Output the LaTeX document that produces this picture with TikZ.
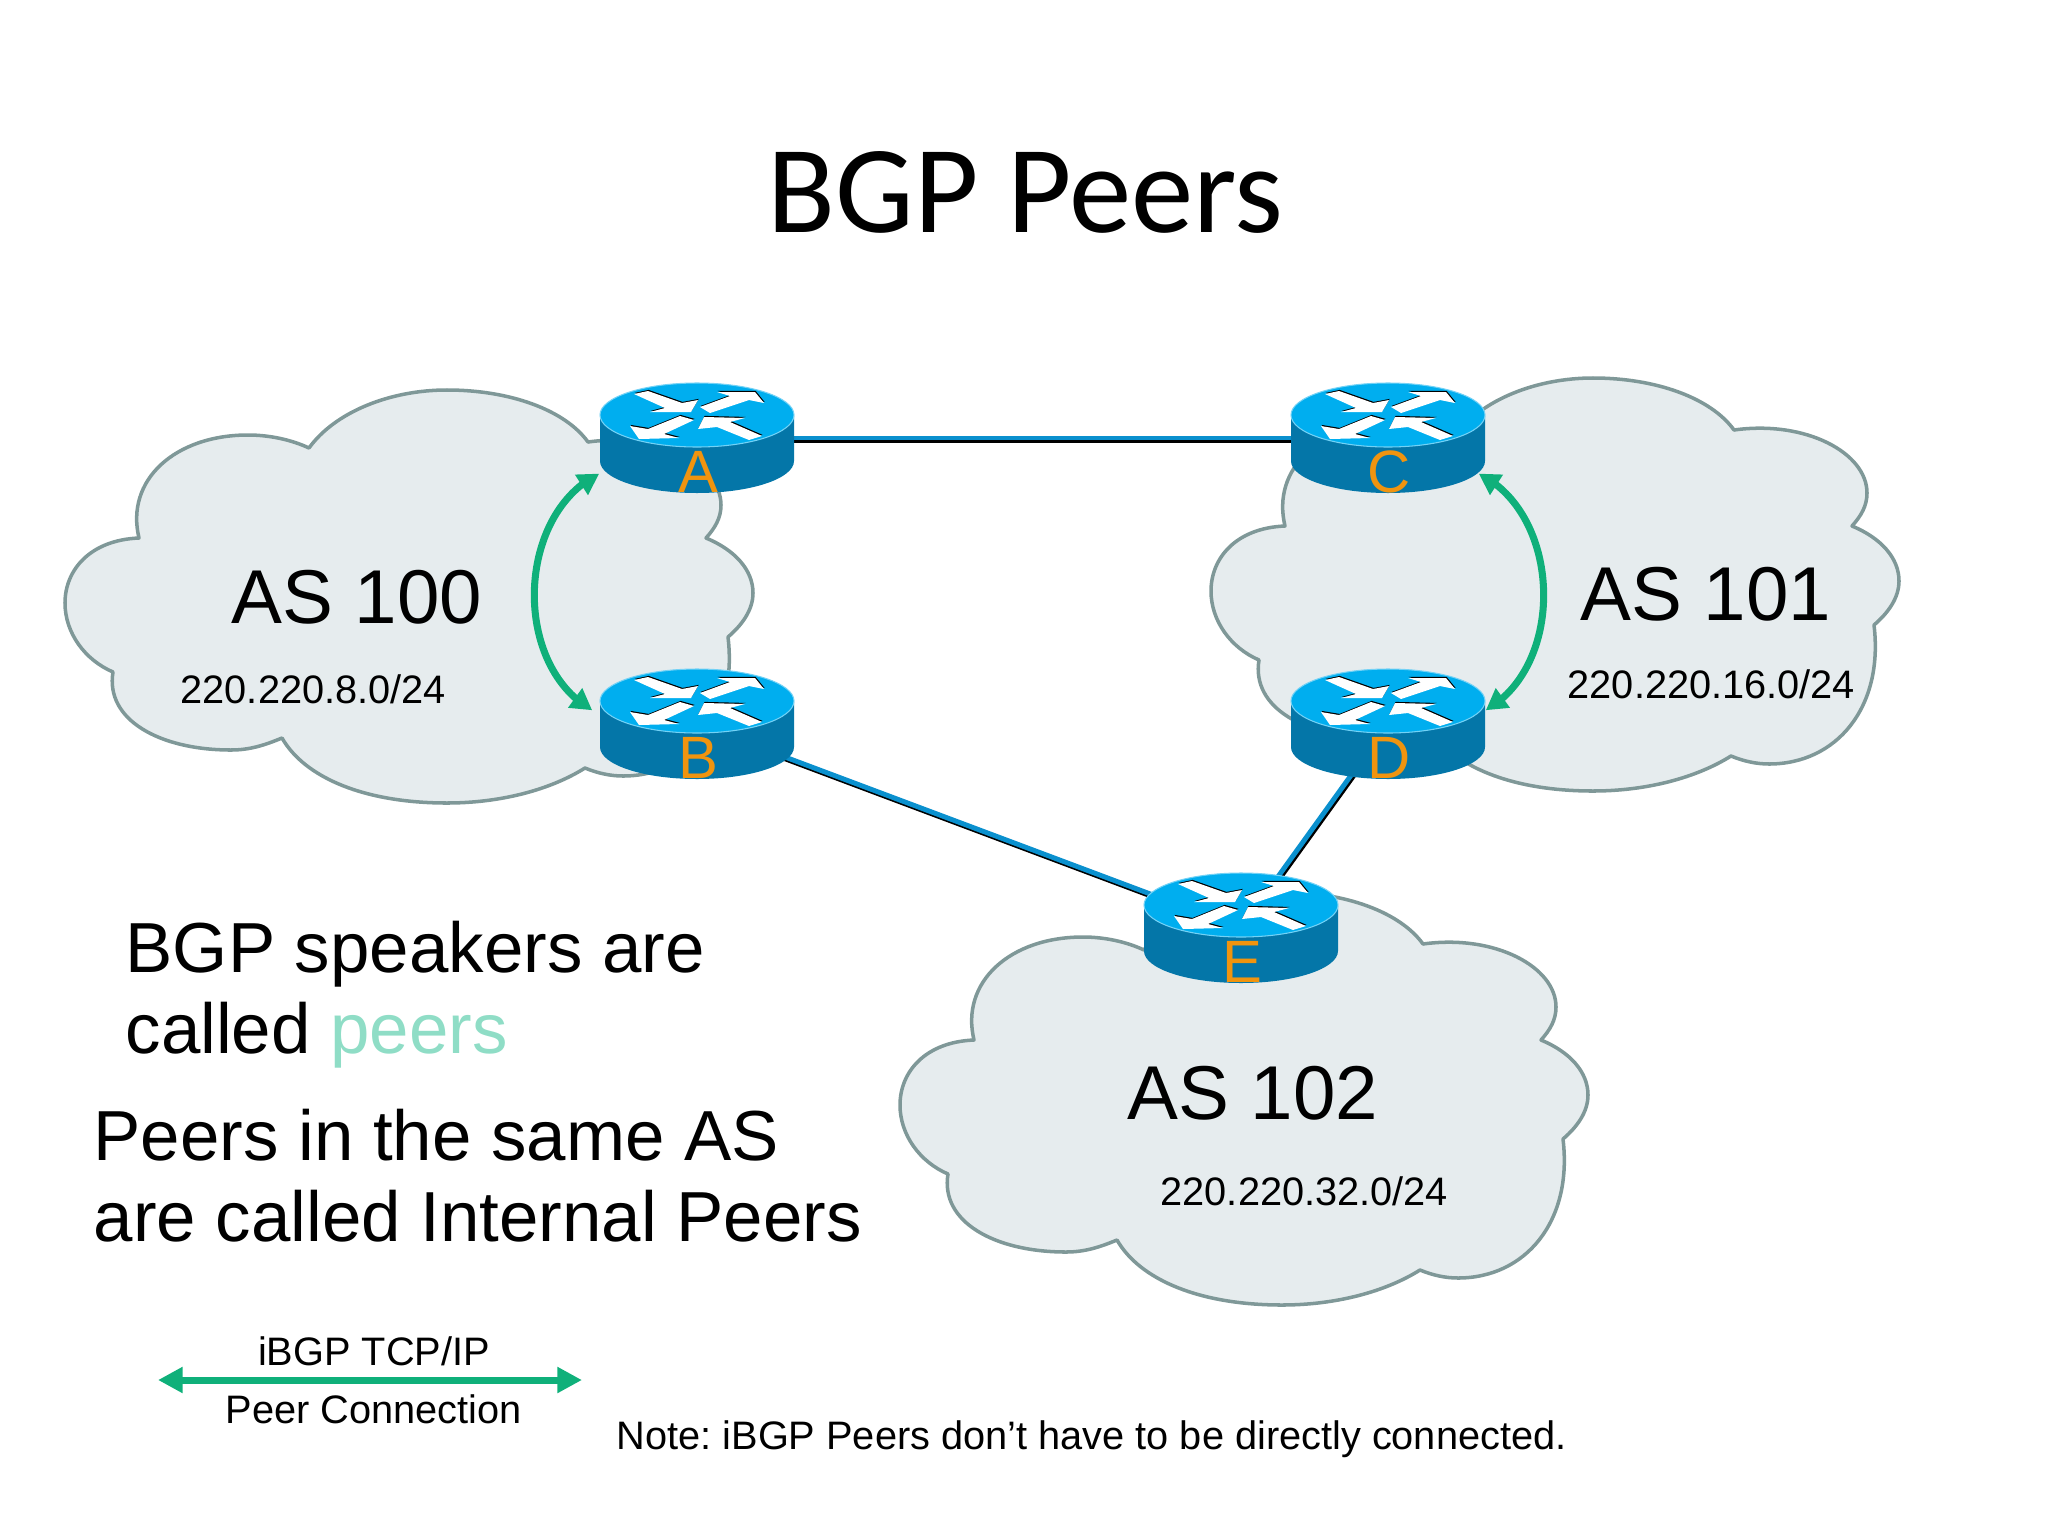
\documentclass[tikz,border=0pt]{standalone}
\usepackage{fontspec}
\setmainfont{Liberation Sans}
\newfontfamily\titlefont{Carlito}
\usetikzlibrary{arrows.meta,bending}
\definecolor{cloudfill}{HTML}{E6ECEE}
\definecolor{cloudline}{HTML}{7F9898}
\definecolor{routertop}{HTML}{00AEEF}
\definecolor{routerside}{HTML}{0476A8}
\definecolor{linkblue}{HTML}{0A90CE}
\definecolor{peergreen}{HTML}{0FB07A}
\definecolor{peerlight}{HTML}{8FDDC6}
\definecolor{labelorange}{HTML}{F0940F}
\tikzset{
  astext/.style={anchor=base west,inner sep=0pt,font=\fontsize{21.7}{25}\selectfont},
  bigtext/.style={anchor=base west,inner sep=0pt,font=\fontsize{20.15}{24}\selectfont},
  smalltext/.style={anchor=base west,inner sep=0pt,font=\frenchspacing\fontsize{11.3}{13}\selectfont},
  routerbox/.style={minimum width=1.94cm,minimum height=1.11cm,inner sep=0pt},
  routerlabel/.style={anchor=base,inner sep=0pt,text=labelorange,font=\fontsize{17}{19}\selectfont},
  peerarrow/.style={{Triangle[length=6pt,width=6.5pt,flex]}-{Triangle[length=6pt,width=6.5pt,flex]},draw=peergreen,line width=2pt},
  ascloud/.pic={
    \filldraw[fill=cloudfill,draw=cloudline,line width=1pt,line join=round]
      (139,538) .. controls (125,480) and (175,435) .. (248,435)
      .. controls (270,435) and (292,440) .. (309,448)
      .. controls (335,412) and (390,390) .. (447,390)
      .. controls (510,390) and (565,410) .. (588,442)
      .. controls (660,432) and (721,465) .. (721,505)
      .. controls (721,518) and (715,528) .. (706,538)
      .. controls (735,550) and (753,570) .. (753,593)
      .. controls (753,610) and (742,625) .. (728,637)
      .. controls (738,720) and (690,776) .. (623,776)
      .. controls (610,776) and (597,773) .. (585,768)
      .. controls (550,790) and (500,803) .. (447,803)
      .. controls (365,803) and (305,778) .. (282,738)
      .. controls (265,745) and (250,750) .. (231,750)
      .. controls (160,750) and (105,720) .. (113,672)
      .. controls (85,660) and (65,633) .. (65,603)
      .. controls (65,570) and (90,540) .. (139,538) -- cycle;
  },
  router/.pic={
    \fill[routerside] (-97,-22) -- (-97,23) arc[start angle=180,end angle=360,x radius=97,y radius=-32] -- (97,-22) -- cycle;
    \filldraw[fill=routertop,draw=routertop!55!white,line width=0.3pt] (0,-23) ellipse [x radius=97,y radius=32];
    \foreach \shade/\dx/\dy in {black/0.6/-1.1,white/0/0}{
      \begin{scope}[shift={(\dx,\dy-23)}]
        \fill[\shade] (-63,-21) -- (-49,-24) -- (-15,-12) -- (1,-15) -- (-6,-3) -- (-47,-3) -- (-32,-7) -- cycle;
        \fill[\shade] (3,-8) -- (33,-19) -- (20,-23) -- (58,-23) -- (67,-12) -- (52,-15) -- (13,-2) -- cycle;
        \fill[\shade] (-3,5) -- (-17,1) -- (-49,14) -- (-67,11) -- (-58,24) -- (-18,23) -- (-33,19) -- cycle;
        \fill[\shade] (1,14) -- (7,2) -- (48,3) -- (33,7) -- (65,21) -- (52,25) -- (20,12) -- cycle;
      \end{scope}
    }
  }
}
\begin{document}
\begin{tikzpicture}[x=0.01cm,y=-0.01cm]
\useasboundingbox (0,0) rectangle (2048,1536);

% Clouds
\pic at (0,0) {ascloud};
\pic at (1146,-12) {ascloud};
\pic at (835,502) {ascloud};

% Routers and links
\foreach \name/\x/\y in {A/697/438,B/697/724,C/1388/438,D/1388/724,E/1241/928}
  \node [routerbox] (\name) at (\x,\y) {};
\foreach \from/\to in {A/C,B/E,D/E}{
  \draw [black,line width=1.2pt,transform canvas={xshift=0.4pt,yshift=-0.75pt}] (\from.center) -- (\to.center);
  \draw [linkblue,line width=1.4pt] (\from.center) -- (\to.center);
}
\foreach \name/\x/\y in {A/697/438,B/697/724,C/1388/438,D/1388/724,E/1241/928}{
  \pic at (\name) {router};
  \node [routerlabel] (label\name) at (\x+1,\y+54) {\name};
}

% iBGP arrows
\draw [peerarrow] (A.200) to [bend right=62] ([xshift=-2pt]B.172);
\draw [peerarrow] ([xshift=-2pt]C.-20) to [bend left=62] (D.8);

% Title
\node [anchor=base west,inner sep=0pt,font=\titlefont\fontsize{35.5}{40}\selectfont] (title) at (767,232) {BGP Peers};

% AS labels
\node [astext] (as100) at (231,623) {AS 100};
\node [smalltext] (net100) at (180,703) {220.220.8.0/24};
\node [astext] (as101) at (1580,620) {AS 101};
\node [smalltext] (net101) at (1567,698) {220.220.16.0/24};
\node [astext] (as102) at (1127,1119) {AS 102};
\node [smalltext] (net102) at (1160,1205) {220.220.32.0/24};

% Side text
\node [bigtext] (line1) at (125,972) {BGP speakers are};
\node [bigtext] (line2) at (125,1053) {called \textcolor{peerlight}{peers}};
\node [bigtext] (line3) at (93,1160) {Peers in the same AS};
\node [bigtext] (line4) at (93,1241) {are called Internal Peers};

% Legend
\coordinate (legleft) at (158,1380);
\coordinate (legright) at (582,1380);
\draw [{Triangle[length=7pt,width=7pt]}-{Triangle[length=7pt,width=7pt]},draw=peergreen,fill=peergreen,line width=2pt] (legleft) -- (legright);
\node [smalltext,anchor=base] (legtop) at (374,1365) {iBGP TCP/IP};
\node [smalltext,anchor=base] (legbottom) at (374,1423) {Peer Connection};
\node [smalltext] (note) at (616,1449) {Note: iBGP Peers don’t have to be directly connected.};
\end{tikzpicture}
\end{document}
